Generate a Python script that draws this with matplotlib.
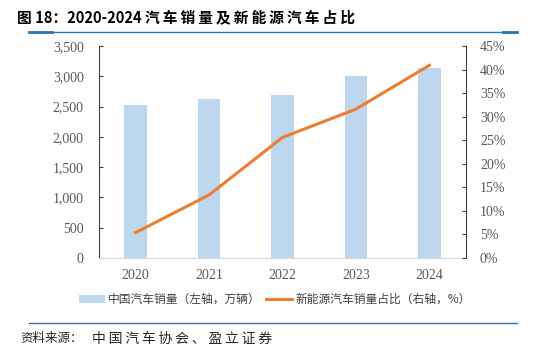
import matplotlib
matplotlib.use("Agg")
from matplotlib import pyplot as plt
from matplotlib.ticker import FuncFormatter

plt.rcParams['font.family'] = ['Noto Sans CJK SC', 'DejaVu Sans']

years = ['2020', '2021', '2022', '2023', '2024']
sales = [2531, 2627, 2686, 3009, 3144]        # 万辆
nev_share = [5.4, 13.4, 25.6, 31.6, 40.9]     # %

bar_color = '#BDD7EE'
line_color = '#ED7D31'
tick_color = '#595959'
blue = '#2E75B6'
thin = '\u2009'


def spaced(s):
    # the report font is letter-spaced, put a thin space between glyphs
    return thin.join(s)


fig = plt.figure(figsize=(5.33, 3.46), dpi=100)
ax = fig.add_axes([0.1857, 0.2543, 0.6886, 0.6127])
ax2 = ax.twinx()

x = list(range(len(years)))
ax.bar(x, sales, width=0.31, color=bar_color, label='中国汽车销量（左轴，万辆）', zorder=2)
ax2.plot(x, nev_share, color=line_color, linewidth=2.2, label='新能源汽车销量占比（右轴，%）', zorder=3)

ax.set_xlim(-0.5, 4.5)
ax.set_ylim(0, 3500)
ax.set_yticks(range(0, 3501, 500))
ax.yaxis.set_major_formatter(FuncFormatter(lambda v, p: f'{int(v):,}'))
ax2.set_ylim(0, 45)
ax2.set_yticks(range(0, 46, 5))
ax2.yaxis.set_major_formatter(FuncFormatter(lambda v, p: f'{int(v)}%'))

ax.set_xticks(x)
ax.set_xticklabels(years)

serif = 'Liberation Serif'
for a in (ax, ax2):
    a.spines['top'].set_visible(False)
    for lab in a.get_yticklabels() + a.get_xticklabels():
        lab.set_fontfamily(serif)
        lab.set_fontsize(10)
        lab.set_color(tick_color)

ax.spines['right'].set_visible(False)
ax2.spines['left'].set_visible(False)
ax2.spines['bottom'].set_visible(False)
ax.spines['left'].set_color('#404040')
ax2.spines['right'].set_color('#404040')
ax.spines['bottom'].set_color('#D9D9D9')
ax.tick_params(axis='y', direction='in', length=3, color='#404040', pad=11)
ax2.tick_params(axis='y', direction='in', length=3, color='#404040', pad=10)
ax.tick_params(axis='x', length=0, pad=8)

# legend
h1, l1 = ax.get_legend_handles_labels()
h2, l2 = ax2.get_legend_handles_labels()
fig.legend(h1 + h2, l1 + l2, loc='center', bbox_to_anchor=(0.515, 0.135), ncol=2,
           frameon=False, fontsize=8.5, handlelength=2.2, columnspacing=0.4,
           handletextpad=0.3, labelcolor='#404040')

# title and rules
fig.text(0.032, 0.95, '图 18：2020-2024 ' + spaced('汽车销量及新能源汽车占比'),
         fontsize=10.6, fontweight='bold', va='center', ha='left')
fig.add_artist(plt.Line2D([0.054, 0.97], [0.908, 0.908], color=blue, linewidth=1.0))
fig.add_artist(plt.Line2D([0.054, 0.097], [0.908, 0.908], color=blue, linewidth=2.0))
fig.add_artist(plt.Line2D([0.943, 0.97], [0.908, 0.908], color=blue, linewidth=2.0))
fig.add_artist(plt.Line2D([0.054, 0.97], [0.067, 0.067], color=blue, linewidth=1.0))
fig.text(0.038, 0.022, '资料来源：', fontsize=9, va='center', ha='left', color='#262626')
fig.text(0.172, 0.022, spaced('中国汽车协会、盈立证券'), fontsize=10, va='center',
         ha='left', color='#262626')

fig.savefig('out.png', dpi=100)
